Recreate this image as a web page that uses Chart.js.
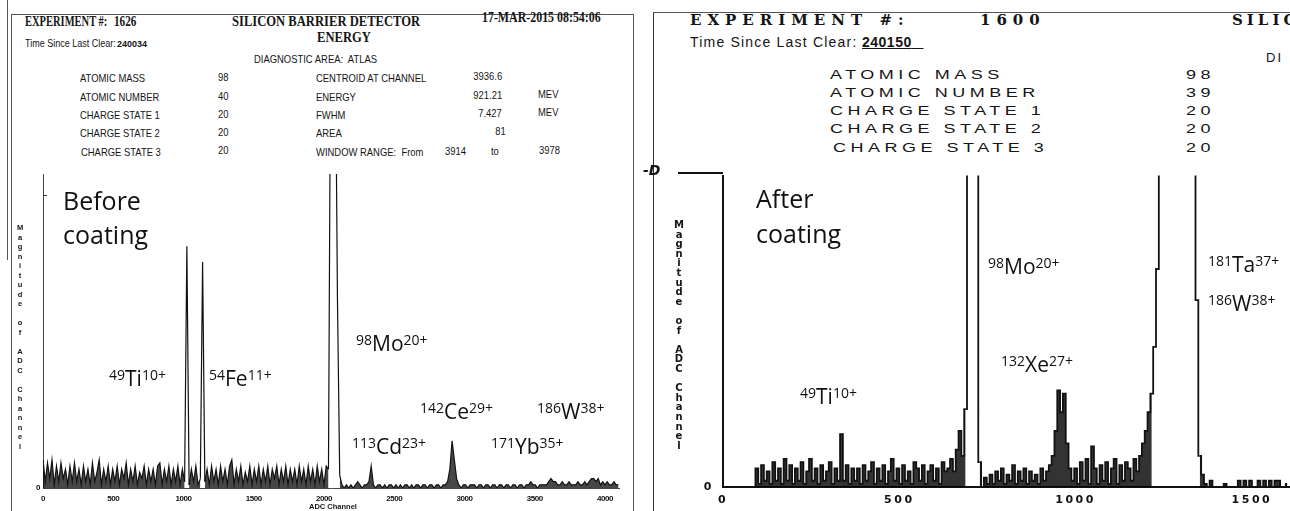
<!DOCTYPE html>
<html>
<head>
<meta charset="utf-8">
<script src="https://cdn.jsdelivr.net/npm/chart.js@4.4.1/dist/chart.umd.min.js"></script>
<style>
    body { margin: 0; background: #fff; }
    #page { position: relative; width: 1290px; height: 511px; overflow: hidden; background: #fff; color: #151515; }
    .t { position: absolute; white-space: nowrap; line-height: 1; }
    .ser { font-family: "Liberation Serif", "Times New Roman", serif; font-weight: bold; transform-origin: 0 0; }
    .san { font-family: "Liberation Sans", Arial, sans-serif; transform-origin: 0 0; }
    .row { font-family: "Liberation Sans", Arial, sans-serif; font-size: 11.5px; transform: scaleX(.82); transform-origin: 0 0; }
    .num { font-family: "Liberation Sans", Arial, sans-serif; font-size: 11.5px; transform: scaleX(.82); transform-origin: 100% 0; }
    .wide { font-family: "Liberation Sans", Arial, sans-serif; font-size: 12px; letter-spacing: 3px; transform: scaleX(1.5); transform-origin: 0 0; }
    .dser { font-family: "DejaVu Serif", serif; font-weight: bold; font-size: 15px; }
    .lab { position: absolute; white-space: nowrap; line-height: 1; font-family: "Open Sans", "Noto Sans", sans-serif; font-size: 21px; color: #111; }
    .lab sup { font-size: 14px; vertical-align: .45em; line-height: 0; }
    .big { font-size: 25px; }
    .line { position: absolute; background: #555; }
    .chartbox { position: absolute; }
    .vl { position: absolute; font-weight: bold; text-align: center; line-height: 1; }
</style>
</head>
<body>
<div id="page">
    <!-- panel frames -->
    <div class="line" style="left:7px;top:0;width:1px;height:260px;"></div>
    <div class="line" style="left:11px;top:14px;width:1px;height:497px;"></div>
    <div class="line" style="left:11px;top:14px;width:622px;height:1px;"></div>
    <div class="line" style="left:633px;top:14px;width:1px;height:497px;"></div>
    <div class="line" style="left:653px;top:12px;width:1px;height:499px;background:#333;"></div>
    <div class="line" style="left:653px;top:12px;width:637px;height:1px;"></div>

    <!-- left header -->
    <div class="t ser" style="left:25px;top:15px;font-size:14px;transform:scaleX(.75);">EXPERIMENT #:</div>
    <div class="t ser" style="left:114px;top:15px;font-size:14px;transform:scaleX(.8);">1626</div>
    <div class="t ser" style="left:232px;top:15px;font-size:14px;transform:scaleX(.9);">SILICON BARRIER DETECTOR</div>
    <div class="t ser" style="left:317px;top:31px;font-size:14px;transform:scaleX(.9);">ENERGY</div>
    <div class="t ser" style="left:482px;top:11px;font-size:14px;transform:scaleX(.85);">17-MAR-2015 08:54:06</div>
    <div class="t san" style="left:25px;top:39px;font-size:10px;transform:scaleX(.9);">Time Since Last Clear:</div>
    <div class="t san" style="left:117px;top:40px;font-size:9px;font-weight:bold;">240034</div>
    <div class="t row" style="left:254px;top:54px;">DIAGNOSTIC AREA:&nbsp; ATLAS</div>

    <div class="t row" style="left:80px;top:73px;">ATOMIC MASS</div>
    <div class="t row" style="left:80px;top:92px;">ATOMIC NUMBER</div>
    <div class="t row" style="left:80px;top:110px;">CHARGE STATE 1</div>
    <div class="t row" style="left:80px;top:128px;">CHARGE STATE 2</div>
    <div class="t row" style="left:81px;top:147px;">CHARGE STATE 3</div>
    <div class="t row" style="left:218px;top:72px;">98</div>
    <div class="t row" style="left:218px;top:91px;">40</div>
    <div class="t row" style="left:218px;top:109px;">20</div>
    <div class="t row" style="left:218px;top:127px;">20</div>
    <div class="t row" style="left:218px;top:145px;">20</div>
    <div class="t row" style="left:316px;top:73px;">CENTROID AT CHANNEL</div>
    <div class="t row" style="left:316px;top:92px;">ENERGY</div>
    <div class="t row" style="left:316px;top:110px;">FWHM</div>
    <div class="t row" style="left:316px;top:128px;">AREA</div>
    <div class="t row" style="left:316px;top:147px;">WINDOW RANGE:&nbsp; From</div>
    <div class="t num" style="right:788px;top:71px;">3936.6</div>
    <div class="t num" style="right:788px;top:90px;">921.21</div>
    <div class="t num" style="right:788px;top:108px;">7.427</div>
    <div class="t num" style="right:784px;top:126px;">81</div>
    <div class="t row" style="left:538px;top:89px;">MEV</div>
    <div class="t row" style="left:538px;top:107px;">MEV</div>
    <div class="t row" style="left:445px;top:146px;">3914</div>
    <div class="t row" style="left:491px;top:146px;">to</div>
    <div class="t row" style="left:539px;top:145px;">3978</div>

    <!-- right header -->
    <div class="t dser" style="left:690px;top:13px;letter-spacing:6px;">EXPERIMENT #:</div>
    <div class="t dser" style="left:980px;top:13px;letter-spacing:6px;">1600</div>
    <div class="t dser" style="left:1232px;top:13px;letter-spacing:4px;">SILIC</div>
    <div class="t san" style="left:690px;top:35px;font-size:14px;letter-spacing:1.2px;">Time Since Last Clear:</div>
    <div class="t san" style="left:862px;top:35px;font-size:14px;font-weight:bold;letter-spacing:.5px;text-decoration:underline;">240150<span style="letter-spacing:0">&nbsp;_</span></div>
    <div class="t san" style="left:1266px;top:51px;font-size:13px;letter-spacing:2px;">DI</div>
    <div class="t wide" style="left:830px;top:69px;">ATOMIC MASS</div>
    <div class="t wide" style="left:830px;top:87px;">ATOMIC NUMBER</div>
    <div class="t wide" style="left:830px;top:105px;">CHARGE STATE 1</div>
    <div class="t wide" style="left:830px;top:123px;">CHARGE STATE 2</div>
    <div class="t wide" style="left:833px;top:142px;">CHARGE STATE 3</div>
    <div class="t wide" style="left:1186px;top:69px;">98</div>
    <div class="t wide" style="left:1186px;top:87px;">39</div>
    <div class="t wide" style="left:1186px;top:105px;">20</div>
    <div class="t wide" style="left:1186px;top:123px;">20</div>
    <div class="t wide" style="left:1186px;top:142px;">20</div>

    <!-- charts -->
    <div class="chartbox" style="left:0;top:160px;width:636px;height:351px;"><canvas id="beforeChart" width="636" height="351"></canvas></div>
    <div class="chartbox" style="left:655px;top:160px;width:635px;height:351px;"><canvas id="afterChart" width="635" height="351"></canvas></div>

    <!-- axis odds and ends -->
    <div class="line" style="left:43px;top:195px;width:4px;height:1px;background:#333;"></div>
    <div class="line" style="left:678px;top:172px;width:45px;height:2px;background:#111;"></div>
    <div class="t" style="left:643px;top:163px;font-family:'DejaVu Sans',sans-serif;font-weight:bold;font-style:italic;font-size:14px;">-D</div>
    <div class="t san" style="left:309px;top:503px;font-size:7.5px;font-weight:bold;">ADC Channel</div>

    <!-- peak labels -->
    <div class="lab big" style="left:63px;top:188px;">Before</div>
    <div class="lab big" style="left:63px;top:222px;">coating</div>
    <div class="lab" style="left:109px;top:368px;"><sup>49</sup>Ti<sup>10+</sup></div>
    <div class="lab" style="left:209px;top:368px;"><sup>54</sup>Fe<sup>11+</sup></div>
    <div class="lab" style="left:356px;top:333px;"><sup>98</sup>Mo<sup>20+</sup></div>
    <div class="lab" style="left:420px;top:401px;"><sup>142</sup>Ce<sup>29+</sup></div>
    <div class="lab" style="left:537px;top:401px;"><sup>186</sup>W<sup>38+</sup></div>
    <div class="lab" style="left:352px;top:436px;"><sup>113</sup>Cd<sup>23+</sup></div>
    <div class="lab" style="left:491px;top:436px;"><sup>171</sup>Yb<sup>35+</sup></div>

    <div class="lab big" style="left:756px;top:186px;">After</div>
    <div class="lab big" style="left:756px;top:221px;">coating</div>
    <div class="lab" style="left:988px;top:256px;"><sup>98</sup>Mo<sup>20+</sup></div>
    <div class="lab" style="left:1208px;top:254px;"><sup>181</sup>Ta<sup>37+</sup></div>
    <div class="lab" style="left:1208px;top:293px;"><sup>186</sup>W<sup>38+</sup></div>
    <div class="lab" style="left:1001px;top:354px;"><sup>132</sup>Xe<sup>27+</sup></div>
    <div class="lab" style="left:800px;top:386px;"><sup>49</sup>Ti<sup>10+</sup></div>
</div>

<script>
// ADC spectrum before coating, one value every 16 channels from channel 0
const beforeStep = 16;
const beforeCounts = [
    9, 2, 8, 3, 9, 1, 7, 2, 8, 3, 6, 1, 7, 2, 8, 2,        // 0
    6, 1, 7, 2, 6, 1, 8, 2, 5, 9, 1, 6, 2, 7, 1, 6,        // 256
    2, 7, 1, 6, 3, 8, 1, 6, 2, 7, 1, 5, 3, 7, 1, 6,        // 512
    2, 6, 1, 7, 8, 1, 6, 2, 7, 1, 6, 2, 7, 1, 6, 2,        // 768
    77, 1, 6, 2, 7, 1, 3, 72, 2, 6, 1, 7, 2, 6, 1, 7,      // 1024  Ti, Fe
    2, 6, 1, 7, 9, 1, 6, 2, 7, 1, 5, 2, 7, 1, 6, 2,        // 1280
    7, 1, 6, 2, 7, 1, 6, 3, 7, 1, 6, 2, 7, 1, 6, 2,        // 1536
    6, 1, 7, 2, 6, 1, 7, 2, 6, 1, 7, 2, 6, 1, 7, 6,        // 1792
    150, 150, 150, 60, 4, 1, 0, 1, 0, 1, 0, 1, 2, 1, 0, 1, // 2048  Mo
    1, 2, 7, 1, 0, 1, 1, 0, 1, 0, 1, 1, 0, 1, 0, 1,        // 2304  Cd
    0, 1, 1, 0, 1, 0, 1, 1, 0, 1, 1, 0, 1, 1, 0, 1,        // 2560
    1, 0, 1, 1, 2, 6, 15, 9, 3, 1, 0, 1, 1, 0, 1, 1,       // 2816  Ce
    1, 0, 1, 1, 0, 1, 1, 0, 1, 1, 0, 1, 1, 0, 1, 1,        // 3072
    0, 1, 1, 0, 1, 1, 0, 1, 1, 2, 1, 1, 0, 1, 1, 1,        // 3328
    1, 2, 3, 2, 2, 1, 1, 2, 1, 1, 2, 1, 1, 1, 2, 1,        // 3584
    1, 2, 1, 2, 3, 3, 2, 3, 1, 2, 1, 2, 1, 1, 2, 1,        // 3840
    1
];
const beforeTicks = [0, 500, 1000, 1500, 2000, 2500, 3000, 3500, 4000];

// ADC spectrum after coating, one value every 8 channels from channel 0
const afterStep = 8;
const afterCounts = [
    0, 0, 0, 0, 0, 0, 0, 0, 0, 0, 0, 0, 6, 1, 7, 2,                        // 0
    5, 1, 8, 2, 6, 1, 9, 2, 7, 1, 6, 2, 8, 1, 5, 9,                        // 128
    2, 6, 1, 7, 2, 5, 8, 1, 6, 2, 17, 2, 7, 1, 6, 2,                       // 256  Ti
    6, 1, 7, 2, 5, 8, 1, 6, 2, 7, 1, 5, 9, 2, 6, 1,                        // 384
    7, 2, 5, 1, 8, 6, 2, 7, 1, 5, 7, 2, 6, 1, 8, 5,                        // 512
    6, 9, 5, 12, 18, 10, 25, 150, 150, 150, 150, 8, 0, 3, 1, 4,            // 640  Mo
    1, 5, 2, 6, 1, 4, 2, 7, 1, 5, 2, 6, 1, 5, 2, 4,                        // 768
    1, 6, 2, 5, 7, 10, 18, 31, 24, 30, 14, 6, 2, 6, 1, 8,                  // 896  Xe
    2, 9, 1, 13, 6, 1, 7, 2, 8, 1, 6, 9, 1, 7, 2, 8,                       // 1024
    6, 2, 9, 5, 10, 14, 18, 24, 30, 45, 70, 150, 150, 150, 150, 150,       // 1152 Ta/W
    150, 150, 150, 150, 150, 150, 150, 150, 60, 10, 4, 1, 0, 2, 0, 0,      // 1280
    0, 0, 1, 0, 0, 0, 0, 2, 0, 2, 0, 2, 0, 0, 2, 0,                        // 1408
    2, 0, 2, 0, 2, 2, 0, 0, 1                                              // 1536
];
const afterTicks = [0, 500, 1000, 1500];

function toPoints(counts, step) {
    return counts.map((y, i) => ({ x: i * step, y }));
}

function spacing(px) {
    return {
        id: 'spacing',
        beforeDraw(chart) { chart.ctx.letterSpacing = px; },
        afterDraw(chart) { chart.ctx.letterSpacing = '0px'; },
    };
}

function stackLetters(text, cx, top, step, font) {
    const page = document.getElementById('page');
    [...text].forEach((ch, i) => {
        if (ch === ' ') return;
        const el = document.createElement('div');
        el.className = 'vl';
        el.textContent = ch;
        el.style.font = font;
        el.style.left = (cx - 6) + 'px';
        el.style.width = '12px';
        el.style.top = (top + i * step) + 'px';
        page.appendChild(el);
    });
}

function buildSpectrum(canvas, o) {
    // the low noise floor is shaded, the tall peaks stay open outlines
    const shade = (ctx) => (ctx.p0.parsed.y < o.shadeBelow && ctx.p1.parsed.y < o.shadeBelow ? o.shadeColor : 'rgba(0,0,0,0)');
    return new Chart(canvas, {
        type: 'line',
        data: {
            datasets: [{
                data: o.points,
                borderColor: '#111',
                borderWidth: o.lineWidth,
                pointRadius: 0,
                stepped: o.stepped,
                tension: 0,
                fill: 'origin',
                backgroundColor: 'rgba(0,0,0,0)',
                segment: { backgroundColor: shade },
            }],
        },
        options: {
            responsive: false,
            animation: false,
            events: [],
            layout: { padding: { top: o.padTop, right: o.padRight, bottom: 0, left: 0 } },
            plugins: { legend: { display: false }, tooltip: { enabled: false } },
            scales: {
                x: {
                    type: 'linear',
                    min: 0,
                    max: o.xMax,
                    afterFit: (s) => { s.height = o.xHeight; },
                    afterBuildTicks: (s) => { s.ticks = o.ticks.map((v) => ({ value: v })); },
                    grid: { display: false, drawTicks: false },
                    border: { display: true, color: o.axisColor, width: o.axisWidth },
                    ticks: {
                        autoSkip: false, maxRotation: 0, padding: o.tickPad, color: '#111', font: o.tickFont,
                        callback: (v) => String(v),
                    },
                },
                y: {
                    min: 0,
                    max: 100,
                    afterFit: (s) => { s.width = o.yWidth; },
                    afterBuildTicks: (s) => { s.ticks = [{ value: 0 }]; },
                    grid: { display: false, drawTicks: false },
                    border: { display: true, color: o.axisColor, width: o.axisWidth },
                    ticks: { padding: o.yPad, color: '#111', font: o.tickFont, callback: (v) => String(v) },
                },
            },
        },
        plugins: [spacing(o.letterSpacing)],
    });
}

buildSpectrum(document.getElementById('beforeChart'), {
    points: toPoints(beforeCounts, beforeStep),
    ticks: beforeTicks,
    xMax: 4100,
    lineWidth: 1.2,
    stepped: false,
    shadeBelow: 20,
    shadeColor: 'rgba(0,0,0,0.72)',
    padTop: 14,
    padRight: 17,
    xHeight: 23,
    yWidth: 43,
    yPad: 3,
    tickPad: 6,
    axisColor: '#444',
    axisWidth: 1,
    tickFont: { family: 'Liberation Sans', size: 8, weight: 'bold' },
    letterSpacing: '-0.5px',
});

buildSpectrum(document.getElementById('afterChart'), {
    points: toPoints(afterCounts, afterStep),
    ticks: afterTicks,
    xMax: 1608,
    lineWidth: 1.8,
    stepped: 'middle',
    shadeBelow: 35,
    shadeColor: 'rgba(0,0,0,0.8)',
    padTop: 13,
    padRight: 0,
    xHeight: 24,
    yWidth: 68,
    yPad: 9,
    tickPad: 7,
    axisColor: '#111',
    axisWidth: 2,
    tickFont: { family: 'DejaVu Sans', size: 11, weight: 'bold' },
    letterSpacing: '2.5px',
});

stackLetters('Magnitude of ADC Channel', 20, 223, 9.5, 'bold 7.5px "Liberation Sans", Arial, sans-serif');
stackLetters('Magnitude of ADC Channel', 679, 219, 9.6, 'bold 10px "DejaVu Sans", sans-serif');
</script>
</body>
</html>
